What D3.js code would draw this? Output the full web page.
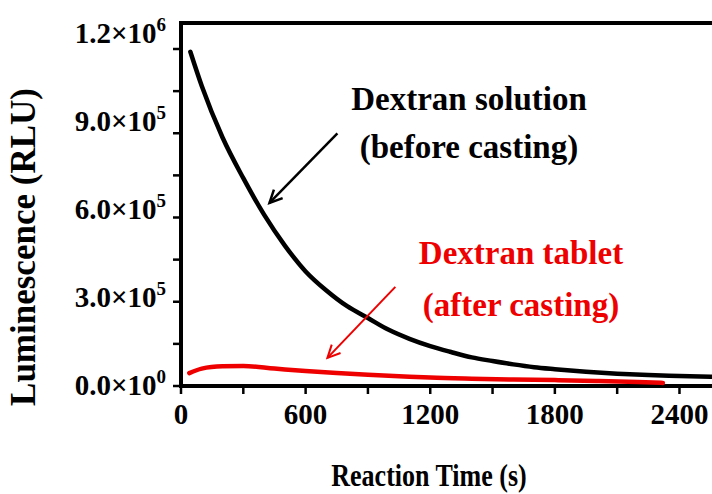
<!DOCTYPE html>
<html>
<head>
<meta charset="utf-8">
<script src="https://cdn.jsdelivr.net/npm/d3@7"></script>
<style>
  html, body { margin: 0; padding: 0; background: #fff; }
  svg { display: block; }
  text { font-family: "Liberation Serif", "Times New Roman", serif; font-weight: bold; }
</style>
</head>
<body>
<svg width="712" height="494"></svg>
<script>
// data (time in s, luminescence in RLU)
const solutionTime = [45, 100, 200, 300, 400, 500, 600, 700, 800, 900, 1000, 1100, 1200, 1300, 1400, 1500, 1600, 1700, 1800, 1950, 2100, 2250, 2400, 2550, 2700];
const solutionRLU = [1190e3, 1068e3, 885e3, 740e3, 610e3, 500e3, 408e3, 340e3, 284e3, 242e3, 200e3, 168e3, 142e3, 121e3, 102e3, 89e3, 77e3, 67e3, 60e3, 51e3, 44e3, 39e3, 36e3, 33e3, 31e3];

const tabletTime = [40, 100, 200, 300, 450, 600, 750, 900, 1050, 1200, 1400, 1600, 1800, 2000, 2200, 2320];
const tabletRLU = [46e3, 62e3, 70e3, 71e3, 62e3, 53e3, 46e3, 40e3, 35e3, 30e3, 26e3, 23e3, 21e3, 18e3, 14e3, 11e3];

const xTicks = [0, 300, 600, 900, 1200, 1500, 1800, 2100, 2400];
const xTickLabels = [0, 600, 1200, 1800, 2400];
const yTicks = [0, 1.5e5, 3e5, 4.5e5, 6e5, 7.5e5, 9e5, 1.05e6, 1.2e6];
const yTickLabels = [0, 3e5, 6e5, 9e5, 1.2e6];

const solutionLabel = ["Dextran solution", "(before casting)"];
const tabletLabel = ["Dextran tablet", "(after casting)"];

const svg = d3.select("svg");

const plotLeft = 181;
const plotTop = 23;
const plotBottom = 386;

const x = d3.scaleLinear().domain([0, 2650]).range([plotLeft, plotLeft + 2650 * 0.2077]);
const y = d3.scaleLinear().domain([0, 1.2926e6]).range([plotBottom, plotTop]);
// the original figure spaces its y labels a little wider than its ticks
const yLab = d3.scaleLinear().domain([0, 1.2e6]).range([385, 33]);

// frame: left axis, bottom axis, top line
svg.append("line")
  .attr("x1", plotLeft).attr("x2", plotLeft)
  .attr("y1", plotTop - 2).attr("y2", plotBottom + 2)
  .attr("stroke", "#000").attr("stroke-width", 4);
svg.append("line")
  .attr("x1", plotLeft - 2).attr("x2", 712)
  .attr("y1", plotBottom).attr("y2", plotBottom)
  .attr("stroke", "#000").attr("stroke-width", 4);
svg.append("line")
  .attr("x1", plotLeft - 2).attr("x2", 712)
  .attr("y1", plotTop).attr("y2", plotTop)
  .attr("stroke", "#000").attr("stroke-width", 4);

// y ticks
svg.selectAll(".ytick")
  .data(yTicks)
  .enter()
  .append("line")
  .attr("class", "ytick")
  .attr("x1", plotLeft - 8).attr("x2", plotLeft)
  .attr("y1", d => y(d)).attr("y2", d => y(d))
  .attr("stroke", "#000").attr("stroke-width", 2.5);

// x ticks
svg.selectAll(".xtick")
  .data(xTicks)
  .enter()
  .append("line")
  .attr("class", "xtick")
  .attr("x1", d => x(d)).attr("x2", d => x(d))
  .attr("y1", plotBottom).attr("y2", plotBottom + 8)
  .attr("stroke", "#000").attr("stroke-width", 2.5);

// y tick labels as mantissa x 10^exp
function sciParts(v) {
  if (v === 0) return ["0.0", "0"];
  const e = Math.floor(Math.log10(v));
  return [(v / Math.pow(10, e)).toFixed(1), String(e)];
}

const yLabels = svg.selectAll(".ylab")
  .data(yTickLabels)
  .enter()
  .append("text")
  .attr("class", "ylab")
  .attr("x", 166)
  .attr("y", d => yLab(d) + 10)
  .attr("text-anchor", "end")
  .style("font-size", "29px");
yLabels.append("tspan").text(d => sciParts(d)[0] + "\u00d710");
yLabels.append("tspan")
  .attr("dy", -12)
  .style("font-size", "19px")
  .text(d => sciParts(d)[1]);

// x tick labels
svg.selectAll(".xlab")
  .data(xTickLabels)
  .enter()
  .append("text")
  .attr("class", "xlab")
  .attr("x", d => x(d))
  .attr("y", 424)
  .attr("text-anchor", "middle")
  .style("font-size", "29px")
  .text(d => d);

// axis titles
svg.append("text")
  .attr("transform", "translate(429,486) scale(1,1.2)")
  .attr("text-anchor", "middle")
  .style("font-size", "26px")
  .text("Reaction Time (s)");

svg.append("text")
  .attr("transform", "translate(35,247) rotate(-90)")
  .attr("text-anchor", "middle")
  .style("font-size", "35px")
  .text("Luminescence (RLU)");

// curves
const line = d3.line()
  .x(d => x(d[0]))
  .y(d => y(d[1]))
  .curve(d3.curveMonotoneX);

const clip = svg.append("clipPath").attr("id", "plotclip");
clip.append("rect").attr("x", plotLeft).attr("y", plotTop).attr("width", 712 - plotLeft).attr("height", plotBottom - plotTop);

svg.append("path")
  .datum(d3.zip(solutionTime, solutionRLU))
  .attr("clip-path", "url(#plotclip)")
  .attr("fill", "none")
  .attr("stroke", "#000")
  .attr("stroke-width", 4.5)
  .attr("stroke-linecap", "round")
  .attr("d", line);

svg.append("path")
  .datum(d3.zip(tabletTime, tabletRLU))
  .attr("fill", "none")
  .attr("stroke", "#ee0000")
  .attr("stroke-width", 4.5)
  .attr("stroke-linecap", "round")
  .attr("d", line);

// arrows
function arrow(t0, v0, t1, v1, color, width) {
  const x0 = x(t0), y0 = y(v0), x1 = x(t1), y1 = y(v1);
  const ang = Math.atan2(y1 - y0, x1 - x0);
  const len = 14, spread = 0.45;
  svg.append("line")
    .attr("x1", x0).attr("y1", y0).attr("x2", x1).attr("y2", y1)
    .attr("stroke", color).attr("stroke-width", width);
  const head = [
    [x1 - len * Math.cos(ang - spread), y1 - len * Math.sin(ang - spread)],
    [x1, y1],
    [x1 - len * Math.cos(ang + spread), y1 - len * Math.sin(ang + spread)],
  ];
  svg.append("path")
    .attr("d", d3.line()(head))
    .attr("fill", "none")
    .attr("stroke", color)
    .attr("stroke-width", width)
    .attr("stroke-linejoin", "miter");
}

arrow(753, 9.0e5, 426, 6.52e5, "#000", 2.5);
arrow(1032, 3.53e5, 705, 1.0e5, "#ee0000", 2);

// annotation text
svg.selectAll(".soltext")
  .data(solutionLabel)
  .enter()
  .append("text")
  .attr("class", "soltext")
  .attr("x", 469)
  .attr("y", (d, i) => 110 + i * 48)
  .attr("text-anchor", "middle")
  .style("font-size", "33px")
  .attr("fill", "#000")
  .text(d => d);

svg.selectAll(".tabtext")
  .data(tabletLabel)
  .enter()
  .append("text")
  .attr("class", "tabtext")
  .attr("x", 521)
  .attr("y", (d, i) => 264 + i * 52)
  .attr("text-anchor", "middle")
  .style("font-size", "33px")
  .attr("fill", "#ee0000")
  .text(d => d);
</script>
</body>
</html>
